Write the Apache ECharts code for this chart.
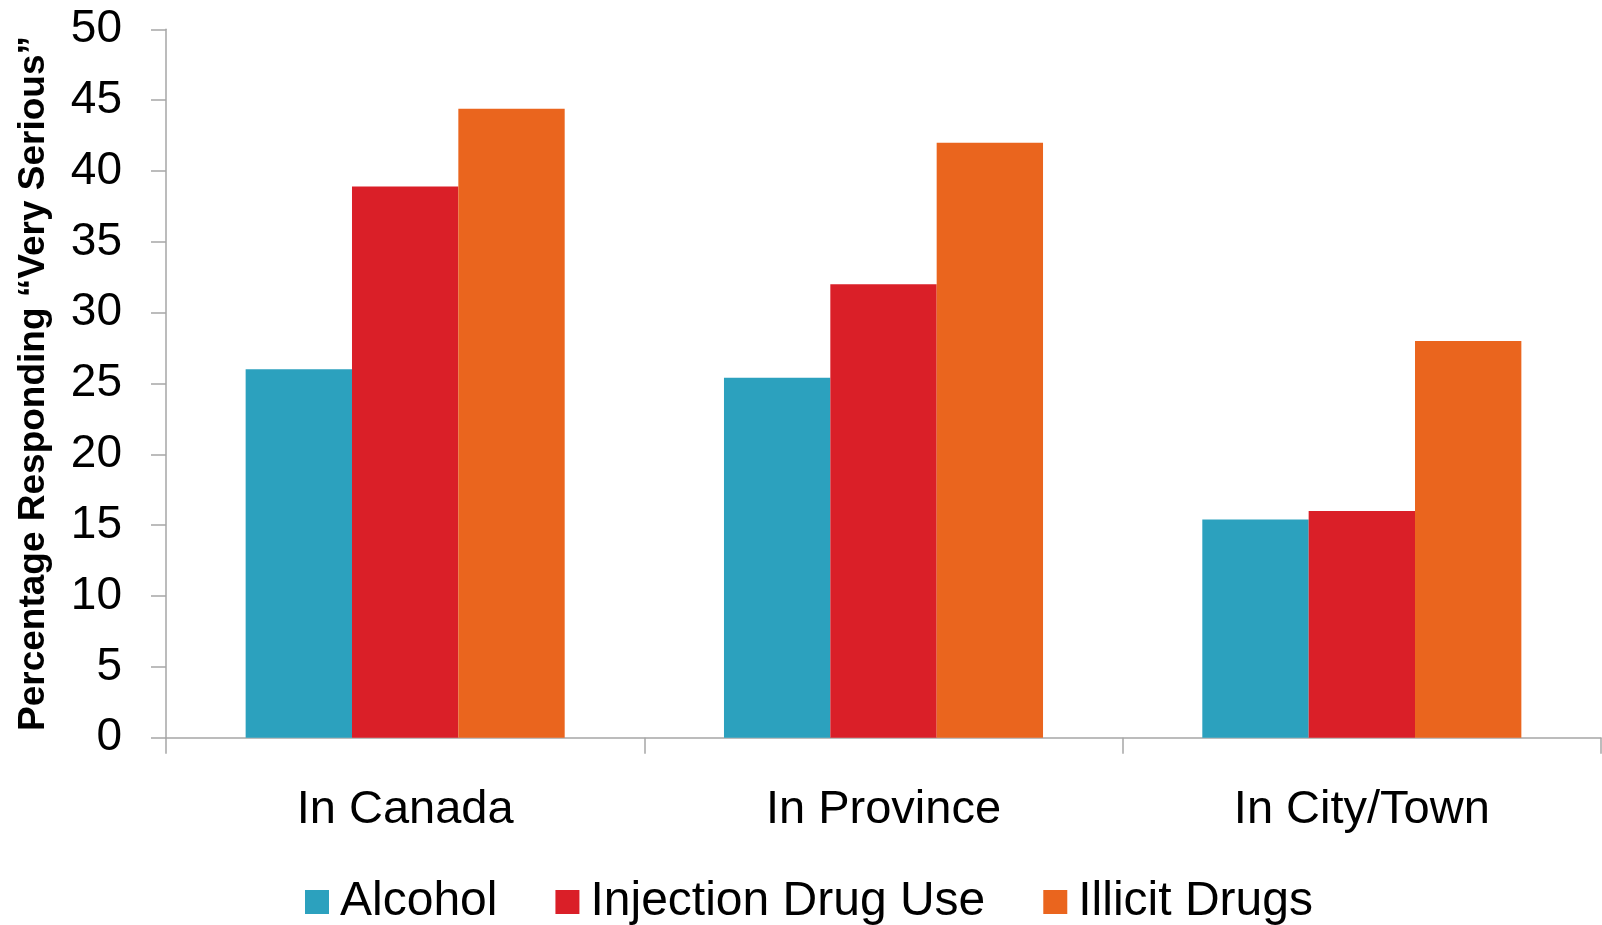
<!DOCTYPE html>
<html>
<head>
<meta charset="utf-8">
<script src="https://cdn.jsdelivr.net/npm/echarts@6/dist/echarts.min.js"></script>
<style>
html,body{margin:0;padding:0;background:#fff;}
#chart{width:1602px;height:925px;}
</style>
</head>
<body>
<div id="chart"></div>
<script>
const categories = ['In Canada', 'In Province', 'In City/Town'];
const seriesNames = ['Alcohol', 'Injection Drug Use', 'Illicit Drugs'];
const alcohol = [26, 25.4, 15.4];
const injectionDrugUse = [38.9, 32, 16];
const illicitDrugs = [44.4, 42, 28];
const yTicks = { min: 0, max: 50, interval: 5 };
const yAxisTitle = 'Percentage Responding \u201cVery Serious\u201d';

const colors = ['#2CA1BE', '#DA1F28', '#EA651E'];
const axisColor = '#a6a6a6';
const font = '"Liberation Sans", Arial, sans-serif';

const chart = echarts.init(document.getElementById('chart'), null, { renderer: 'canvas' });
const values = [alcohol, injectionDrugUse, illicitDrugs];

chart.setOption({
  animation: false,
  backgroundColor: '#fff',
  color: colors,
  textStyle: { fontFamily: font },
  grid: { left: 166, right: 1, top: 29.3, bottom: 187.3, containLabel: false },
  legend: {
    top: 873,
    left: 300,
    itemWidth: 24,
    itemHeight: 24,
    itemGap: 58,
    icon: 'rect',
    textStyle: { fontSize: 48, color: '#000', fontFamily: font, padding: [0, 0, 0, 6] },
    data: seriesNames
  },
  xAxis: {
    type: 'category',
    data: categories,
    axisLine: { lineStyle: { color: axisColor, width: 1.5 } },
    axisTick: { show: true, length: 16, interval: 0, lineStyle: { color: axisColor, width: 1.5 } },
    axisLabel: { margin: 49, fontSize: 47, color: '#000', fontFamily: font, interval: 0 },
    splitLine: { show: false }
  },
  yAxis: {
    type: 'value',
    min: yTicks.min,
    max: yTicks.max,
    interval: yTicks.interval,
    name: yAxisTitle,
    nameLocation: 'middle',
    nameGap: 114,
    nameTextStyle: { fontSize: 37, fontWeight: 'bold', color: '#000', fontFamily: font },
    axisLine: { show: true, lineStyle: { color: axisColor, width: 1.5 } },
    axisTick: { show: true, length: 15, lineStyle: { color: axisColor, width: 1.5 } },
    axisLabel: { margin: 44, fontSize: 46, color: '#000', fontFamily: font },
    splitLine: { show: false }
  },
  series: seriesNames.map((name, i) => ({
    name: name,
    type: 'bar',
    data: values[i],
    barGap: '0%',
    barCategoryGap: '33.3%',
    itemStyle: { color: colors[i] }
  }))
});
</script>
</body>
</html>
